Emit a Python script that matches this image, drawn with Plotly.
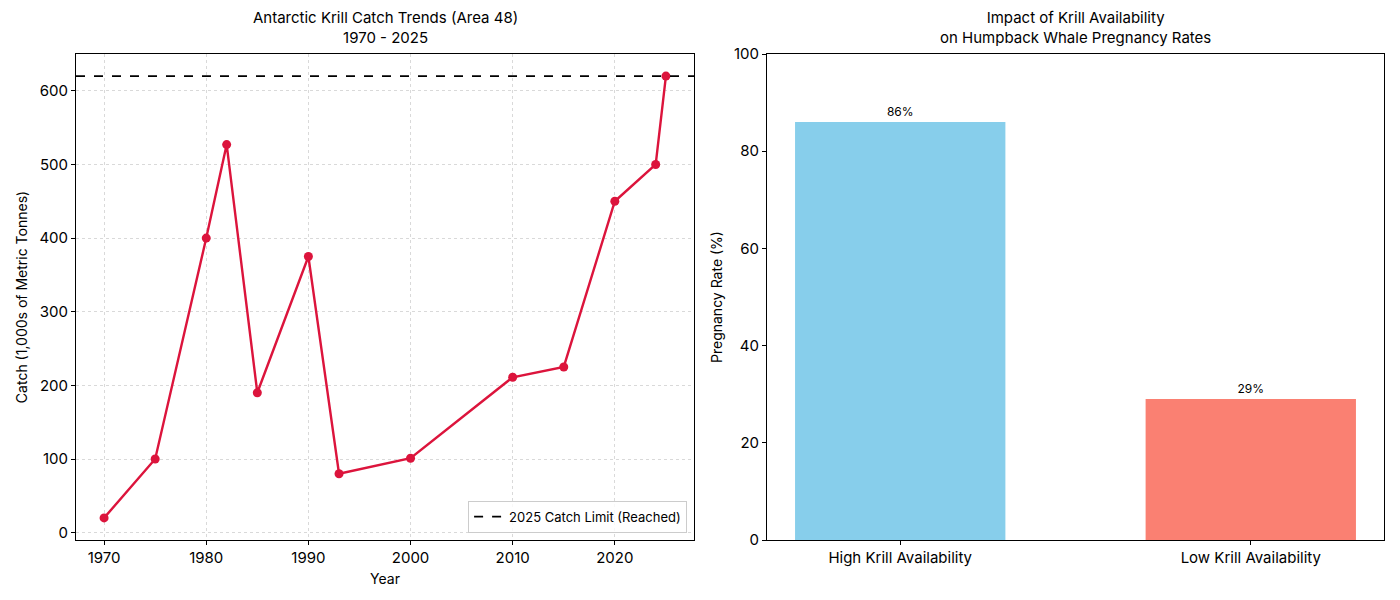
import plotly.graph_objects as go

# Krill catch (thousands of tonnes), Area 48
years = [1970, 1975, 1980, 1982, 1985, 1990, 1993, 2000, 2010, 2015, 2020, 2024, 2025]
catch = [20, 100, 400, 527, 190, 375, 80, 101, 211, 225, 450, 500, 620]
catch_limit = 620

# Humpback pregnancy rates
groups = ["High Krill Availability", "Low Krill Availability"]
pregnancy = [86, 29]
bar_colors = ["#87CEEB", "#FA8072"]

FONT = "Inter, Roboto, DejaVu Sans, sans-serif"
GRID = "#d9d9d9"

fig = go.Figure()

fig.add_trace(go.Scatter(
    x=years, y=catch, mode="lines+markers",
    line=dict(color="#DC143C", width=2.4),
    marker=dict(size=9, color="#DC143C"),
    showlegend=False, xaxis="x", yaxis="y",
))
fig.add_trace(go.Scatter(
    x=[1967.25, 2027.75], y=[catch_limit, catch_limit], mode="lines",
    line=dict(color="black", width=1.8, dash="dash"),
    name="2025 Catch Limit (Reached)", xaxis="x", yaxis="y",
))

fig.add_trace(go.Bar(
    x=[0, 1], y=pregnancy, width=0.6, marker_color=bar_colors,
    marker_line_width=0,
    text=[f"{v}%" for v in pregnancy], textposition="outside",
    textfont=dict(size=12, color="black"), cliponaxis=False,
    showlegend=False, xaxis="x2", yaxis="y2",
))

axis_common = dict(
    showline=True, linecolor="black", linewidth=1, mirror=True,
    ticks="outside", ticklen=4, tickcolor="black",
    tickfont=dict(size=15, color="black"), zeroline=False,
)

fig.update_layout(
    width=1384, height=584,
    margin=dict(l=68, r=8, t=46, b=52, autoexpand=False),
    paper_bgcolor="white", plot_bgcolor="white",
    font=dict(family=FONT, color="black"),
    xaxis=dict(domain=[0, 618 / 1308], range=[1967.25, 2027.75],
               tickvals=[1970, 1980, 1990, 2000, 2010, 2020],
               showgrid=True, gridcolor=GRID, griddash="dot", gridwidth=1,
               title=dict(text="Year", font=dict(size=14), standoff=8),
               **axis_common),
    yaxis=dict(domain=[0, 1], range=[-10, 650],
               tickvals=[0, 100, 200, 300, 400, 500, 600],
               showgrid=True, gridcolor=GRID, griddash="dot", gridwidth=1,
               title=dict(text="Catch (1,000s of Metric Tonnes)", font=dict(size=14), standoff=8),
               **axis_common),
    xaxis2=dict(domain=[691 / 1308, 1], range=[-0.38, 1.38],
                tickvals=[0, 1], ticktext=groups, showgrid=False,
                anchor="y2", **axis_common),
    yaxis2=dict(domain=[0, 1], range=[0, 100],
                tickvals=[0, 20, 40, 60, 80, 100], showgrid=False,
                title=dict(text="Pregnancy Rate (%)", font=dict(size=14), standoff=8),
                anchor="x2", **axis_common),
    legend=dict(x=0.4672, y=0.015, xanchor="right", yanchor="bottom",
                bgcolor="rgba(255,255,255,0.8)", bordercolor="#cccccc", borderwidth=1,
                font=dict(size=13)),
    annotations=[
        dict(text="Antarctic Krill Catch Trends (Area 48)<br>1970 - 2025",
             x=309 / 1308, y=1, xref="paper", yref="paper",
             xanchor="center", yanchor="bottom", yshift=5, showarrow=False,
             font=dict(size=15)),
        dict(text="Impact of Krill Availability<br>on Humpback Whale Pregnancy Rates",
             x=(691 + 1308) / 2 / 1308, y=1, xref="paper", yref="paper",
             xanchor="center", yanchor="bottom", yshift=5, showarrow=False,
             font=dict(size=15)),
    ],
)

fig.write_html("out.html")
